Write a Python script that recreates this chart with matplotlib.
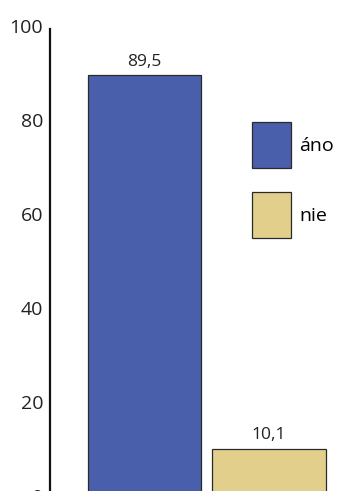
import numpy as np
import matplotlib
matplotlib.use('Agg')
import matplotlib.pyplot as plt
from matplotlib.patches import Patch

plt.rcParams['font.family'] = ['Open Sans', 'DejaVu Sans']

# data
categories = ['áno', 'nie']
values = [89.5, 10.1]
value_labels = ['89,5', '10,1']
colors = ['#4a5fab', '#e3cf8c']
yticks = [0, 20, 40, 60, 80, 100]

W, H = 363, 491
fig = plt.figure(figsize=(W/100, H/100), dpi=100)
# axes placed in pixel terms, bottom (y=0) falls just below the picture
ax = fig.add_axes([50/W, (491-496)/H, (363-50)/W, (496-26)/H])

x = np.arange(len(categories))
bars = ax.bar(x, values, width=0.908, color=colors, edgecolor='#2a2a2a', linewidth=0.9)
ax.bar_label(bars, labels=value_labels, padding=4, fontsize=12.5, color='#222222')

ax.set_xlim(-0.759, 1.755)
ax.set_ylim(0, 100)
ax.set_yticks(yticks)
ax.set_xticks([])
ax.tick_params(axis='y', length=0, pad=5, labelsize=14, labelcolor='#222222')

for side in ['top', 'right', 'bottom']:
    ax.spines[side].set_visible(False)
ax.spines['left'].set_linewidth(1.6)
ax.spines['left'].set_color('#111111')
ax.spines['left'].set_bounds(0, 99.4)

# legend boxes ~39x46 px, 24 px apart
handles = [Patch(facecolor=c, edgecolor='#2a2a2a', linewidth=0.9) for c in colors]
fs = 14
fpx = fs * 100 / 72
hh = (46 * 0.72 / fs - 0.245) / 0.65
leg = fig.legend(handles, categories, loc='upper left',
                 bbox_to_anchor=(252/W, 1 - 122/H), frameon=False,
                 fontsize=fs, borderpad=0, borderaxespad=0,
                 handlelength=39/fpx, handleheight=hh,
                 labelspacing=24/fpx, handletextpad=8/fpx)

fig.savefig('out.png', dpi=100)
